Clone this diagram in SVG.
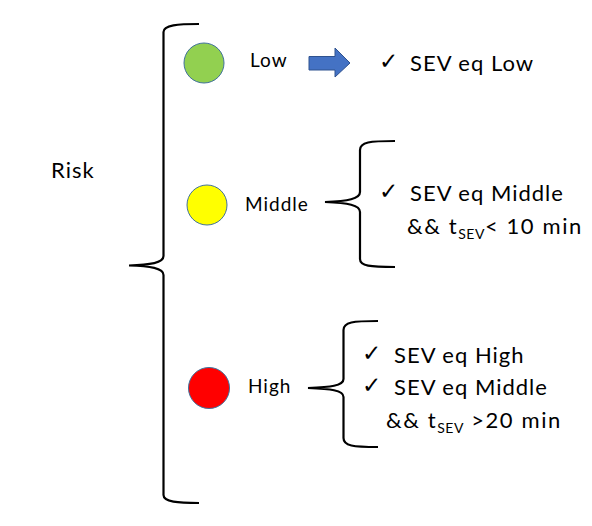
<svg xmlns="http://www.w3.org/2000/svg" width="592" height="526" viewBox="0 0 592 526">
<style>
.t{font-family:Lato,"Open Sans",sans-serif;fill:#000}
.lbl{font-size:19px;letter-spacing:1px}
.c{font-size:22px;letter-spacing:1px}
.c2{font-size:22px;letter-spacing:1.6px}
.ck{font-family:"DejaVu Sans",sans-serif;font-size:23px;fill:#000}
.sub{font-size:14px;letter-spacing:0.5px}
.br{fill:none;stroke:#000;stroke-width:2.2}
.dot{stroke:#41719c;stroke-width:1}
</style>
<rect width="592" height="526" fill="#fff"/>
<g id="connectors">
<path class="br" d="M199,24 C178,24 163.5,25 163.5,32 L163.5,256 C163.5,263 150,265 129,265.5 C150,266 163.5,268 163.5,275 L163.5,495 C163.5,502 178,503 199,503"/>
<path class="br" d="M395,141 C370,141 360,142 360,150 L360,192 C360,199 348,201 325,202 C348,203 360,205 360,212 L360,259 C360,266 370,267 395,267"/>
<path class="br" d="M378,321 C353,321 343.5,322 343.5,330 L343.5,379 C343.5,386 330,387 308,388 C330,389 343.5,390 343.5,397 L343.5,438 C343.5,446 353,447 378,447"/>
<path d="M309,56.5 L335,56.5 L335,48 L350,63 L335,77 L335,70 L309,70 Z" fill="#4472c4" stroke="#2f528f" stroke-width="1"/>
</g>
<g id="risk"><text class="t" x="51" y="178" font-size="22" letter-spacing="1">Risk</text></g>
<g id="low">
<circle class="dot" cx="204" cy="63" r="20" fill="#92d050"/>
<text class="t lbl" x="250" y="67">Low</text>
</g>
<g id="low-rule">
<text class="ck" x="379" y="69">✓</text>
<text class="t c" x="410" y="71">SEV eq Low</text>
</g>
<g id="middle">
<circle class="dot" cx="207" cy="205" r="20" fill="#ffff00"/>
<text class="t lbl" x="245" y="211">Middle</text>
</g>
<g id="middle-rule">
<text class="ck" x="379" y="199">✓</text>
<text class="t c" x="410" y="201">SEV eq Middle</text>
<text class="t c2" x="407" y="234">&amp;&amp; t<tspan class="sub" dy="5">SEV</tspan><tspan dy="-5">&lt; 10 min</tspan></text>
</g>
<g id="high">
<circle class="dot" cx="209" cy="388" r="20.5" fill="#ff0000"/>
<text class="t lbl" x="248" y="393">High</text>
</g>
<g id="high-rule">
<text class="ck" x="362" y="361">✓</text>
<text class="t c" x="394" y="363">SEV eq High</text>
<text class="ck" x="362" y="393">✓</text>
<text class="t c" x="394" y="395">SEV eq Middle</text>
<text class="t c2" x="386" y="428">&amp;&amp; t<tspan class="sub" dy="5">SEV</tspan><tspan dy="-5"> &gt;20 min</tspan></text>
</g>
</svg>
